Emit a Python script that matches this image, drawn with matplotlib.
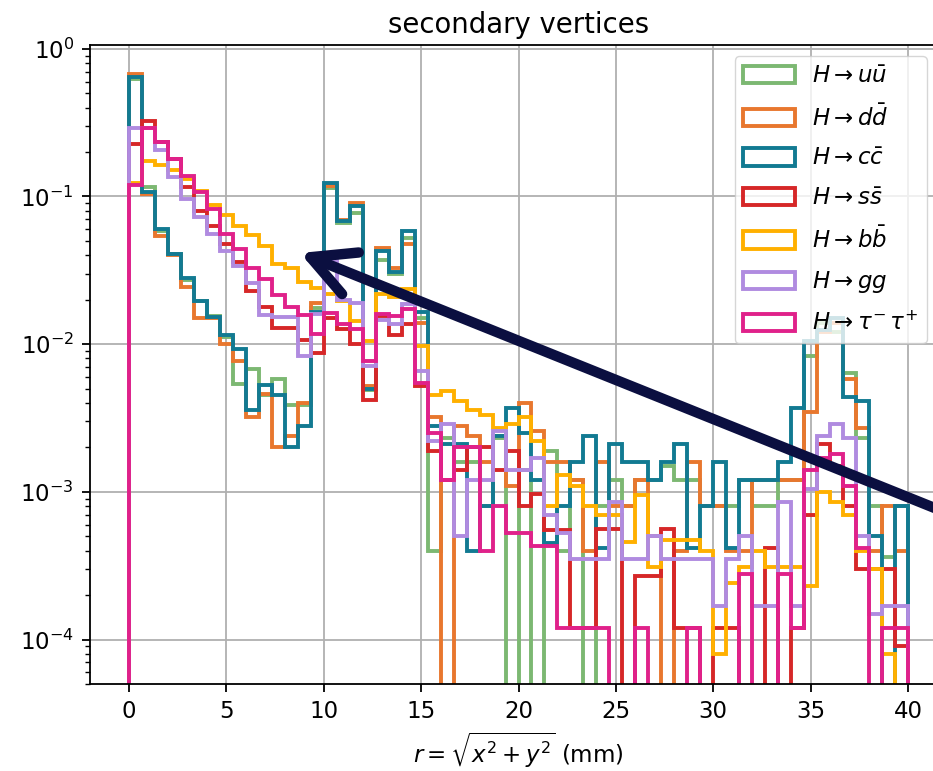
"""
Secondary-vertex radial distance for the seven Higgs decay channels.

Step histograms (normalised, log y) of r = sqrt(x^2 + y^2) in 60 bins over 0-40 mm.
"""

import numpy as np
import matplotlib
matplotlib.use("Agg")
import matplotlib.pyplot as plt
from matplotlib.patches import FancyArrowPatch

# ── Binning ───────────────────────────────────────────────────────────────────

R_MIN, R_MAX, N_BINS = 0.0, 40.0, 60

# ── Normalised bin contents per channel ───────────────────────────────────────

H_UU = [0.62, 0.116, 0.058, 0.041, 0.027, 0.0196, 0.0155, 0.0112, 0.0054, 0.0068,
        0.0045, 0.0058, 0.0039, 0.0039, 0.0175, 0.115, 0.066, 0.077, 0.0049, 0.037,
        0.030, 0.052, 0.015, 0.0004, 0.0023, 0.0016, 0.0016, 0.0008, 0.0023, 0.0,
        0.0014, 0.0, 0.0019, 0.0004, 0.0012, 0.0, 0.0008, 0.0012, 0.0008, 0.0012,
        0.0012, 0.0015, 0.0012, 0.0012, 0.0008, 0.0008, 0.0008, 0.0012, 0.0008, 0.0008,
        0.0012, 0.0012, 0.0083, 0.014, 0.012, 0.0064, 0.0023, 0.0008, 0.00036, 0.0008]

H_DD = [0.68, 0.104, 0.054, 0.040, 0.0244, 0.0151, 0.0150, 0.0100, 0.0077, 0.0032,
        0.0046, 0.0020, 0.0024, 0.0040, 0.019, 0.118, 0.069, 0.090, 0.0052, 0.045,
        0.033, 0.048, 0.014, 0.0032, 0.0, 0.0028, 0.0024, 0.0016, 0.0024, 0.0011,
        0.0040, 0.0026, 0.0016, 0.0016, 0.0012, 0.0004, 0.0016, 0.0008, 0.0008, 0.0012,
        0.0005, 0.0, 0.0004, 0.0016, 0.0008, 0.0008, 0.0004, 0.0004, 0.0012, 0.0012,
        0.0012, 0.0012, 0.0035, 0.012, 0.014, 0.0058, 0.0027, 0.0004, 0.0008, 0.0004]

H_CC = [0.64, 0.108, 0.060, 0.041, 0.028, 0.0195, 0.0152, 0.0115, 0.0093, 0.0036,
        0.0053, 0.0045, 0.0020, 0.0028, 0.0165, 0.123, 0.068, 0.086, 0.0050, 0.043,
        0.031, 0.058, 0.0166, 0.0028, 0.0021, 0.0021, 0.0004, 0.0008, 0.0024, 0.0037,
        0.0025, 0.0012, 0.00045, 0.0008, 0.0016, 0.0024, 0.00042, 0.0021, 0.0016, 0.0016,
        0.0012, 0.0016, 0.0021, 0.00042, 0.0008, 0.0016, 0.00042, 0.0012, 0.0012, 0.0012,
        0.0016, 0.0037, 0.0105, 0.0125, 0.015, 0.0044, 0.0041, 0.0005, 0.0, 0.0008]

H_SS = [0.227, 0.325, 0.235, 0.18, 0.116, 0.080, 0.063, 0.048, 0.036, 0.023,
        0.0178, 0.0129, 0.0129, 0.0107, 0.0087, 0.015, 0.0126, 0.0101, 0.0042, 0.0155,
        0.0116, 0.0137, 0.0052, 0.0019, 0.0012, 0.0014, 0.0020, 0.0020, 0.0014, 0.0019,
        0.0008, 0.00097, 0.00055, 0.00055, 0.00012, 0.00012, 0.00056, 0.00056, 0.0, 0.00027,
        0.00027, 0.00056, 0.00012, 0.00012, 0.0, 0.00012, 0.00012, 0.0, 0.0, 0.00042,
        0.0, 0.00012, 0.0007, 0.0021, 0.0015, 0.0008, 0.0003, 0.0003, 0.0003, 0.00009]

H_BB = [0.123, 0.174, 0.164, 0.150, 0.132, 0.109, 0.088, 0.075, 0.063, 0.055,
        0.046, 0.035, 0.033, 0.0265, 0.024, 0.022, 0.0195, 0.0144, 0.0105, 0.022,
        0.021, 0.0237, 0.0097, 0.0045, 0.0048, 0.0041, 0.0036, 0.0033, 0.0027, 0.0029,
        0.0032, 0.0022, 0.0008, 0.0013, 0.0011, 0.0008, 0.0007, 0.0007, 0.00046, 0.00095,
        0.00031, 0.00047, 0.00047, 0.00047, 0.0004, 0.00008, 0.00024, 0.00031, 0.0004, 0.00031,
        0.00031, 0.00031, 0.00023, 0.0010, 0.00085, 0.0007, 0.0004, 0.0003, 0.00008, 0.0]

H_GG = [0.29, 0.29, 0.206, 0.135, 0.096, 0.073, 0.056, 0.043, 0.034, 0.026,
        0.0157, 0.0153, 0.0153, 0.0083, 0.016, 0.037, 0.020, 0.019, 0.0071, 0.0145,
        0.0137, 0.0186, 0.0066, 0.0022, 0.0029, 0.0005, 0.0012, 0.0012, 0.0026, 0.0014,
        0.0014, 0.0017, 0.0007, 0.00053, 0.00035, 0.00035, 0.00035, 0.00085, 0.00035, 0.00035,
        0.0005, 0.00035, 0.00035, 0.00035, 0.00035, 0.00017, 0.00035, 0.0005, 0.00017, 0.00017,
        0.00085, 0.00017, 0.00105, 0.0024, 0.0029, 0.0023, 0.0005, 0.00015, 0.00017, 0.00017]

H_TAUTAU = [0.12, 0.291, 0.234, 0.18, 0.138, 0.107, 0.082, 0.056, 0.044, 0.033,
            0.0276, 0.0216, 0.0178, 0.0157, 0.0117, 0.0162, 0.0137, 0.0127, 0.0077, 0.016,
            0.0155, 0.0173, 0.0055, 0.0025, 0.0012, 0.0020, 0.0020, 0.0004, 0.0008, 0.00053,
            0.00053, 0.00043, 0.00043, 0.00012, 0.00012, 0.00012, 0.00012, 0.0, 0.0, 0.00012,
            0.0, 0.0, 0.0, 0.00012, 0.0, 0.0, 0.0, 0.00028, 0.0, 0.0,
            0.00028, 0.00012, 0.0014, 0.0017, 0.0018, 0.0011, 0.00042, 0.0, 0.00012, 0.00012]

CHANNELS = [
    (H_UU,     r"$H\rightarrow u\bar{u}$",            "#7cb872"),
    (H_DD,     r"$H\rightarrow d\bar{d}$",            "#e8772e"),
    (H_CC,     r"$H\rightarrow c\bar{c}$",            "#127a92"),
    (H_SS,     r"$H\rightarrow s\bar{s}$",            "#d62728"),
    (H_BB,     r"$H\rightarrow b\bar{b}$",            "#ffb000"),
    (H_GG,     r"$H\rightarrow gg$",                  "#b08be0"),
    (H_TAUTAU, r"$H\rightarrow \tau^{-}\,\tau^{+}$",  "#e0218a"),
]

# ── Style ─────────────────────────────────────────────────────────────────────

FS = 16.5
plt.rcParams.update({
    "font.size": FS,
    "axes.titlesize": 19.8,
    "axes.linewidth": 1.3,
    "xtick.major.size": 5.8, "ytick.major.size": 5.8,
    "xtick.major.width": 1.3, "ytick.major.width": 1.3,
    "xtick.major.pad": 5.8, "ytick.major.pad": 5.8,
    "ytick.minor.size": 3.3, "ytick.minor.width": 1.0,
    "grid.linewidth": 1.3,
})

edges = np.linspace(R_MIN, R_MAX, N_BINS + 1)
centers = 0.5 * (edges[:-1] + edges[1:])

fig = plt.figure(figsize=(9.33, 7.71), dpi=100)
# axes run past the right border, so the frame and legend are clipped there
ax = fig.add_axes([0.0965, 0.1128, 0.9185, 0.8288])

for vals, label, color in CHANNELS:
    ax.hist(centers, bins=edges, weights=vals, histtype="step",
            lw=2.8, color=color, label=label, log=True)

ax.set_xlim(-2, 42)
ax.set_ylim(5e-5, 1.06)
ax.set_xticks(np.arange(0, 41, 5))
ax.grid(True, color="#b0b0b0")
ax.set_axisbelow(True)
ax.set_title("secondary vertices", pad=9)
ax.set_xlabel(r"$r=\sqrt{x^2+y^2}$ (mm)", labelpad=5)
ax.legend(loc="upper right", bbox_to_anchor=(0.99, 1.0), fontsize=FS,
          handlelength=2.3, handleheight=0.8, labelspacing=0.72,
          borderpad=0.35, handletextpad=0.75)

# pointer drawn across the plot, tail leaving the right edge
arrow = FancyArrowPatch((962, 252), (300, 518), transform=None,
                        arrowstyle="->,head_length=0.5,head_width=0.26",
                        mutation_scale=62, lw=7.5, color="#0b0f40",
                        capstyle="round", joinstyle="round",
                        shrinkA=0, shrinkB=0, zorder=10)
fig.add_artist(arrow)

fig.savefig("out.png", dpi=100)
